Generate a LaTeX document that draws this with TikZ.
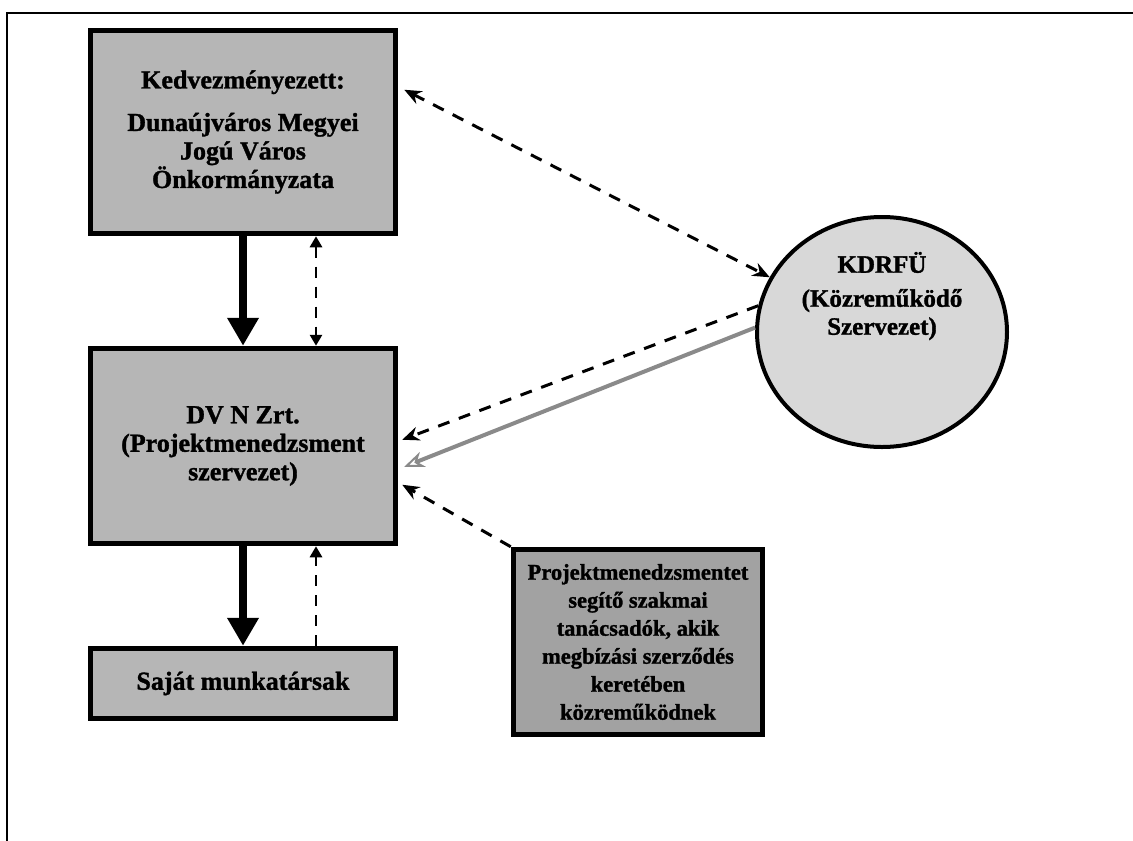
\documentclass[tikz,border=0pt]{standalone}
\usepackage{fontspec}
\setmainfont{Liberation Serif}[BoldFeatures={FakeBold=1.3}]
\usetikzlibrary{arrows.meta,shapes.geometric,calc}
\definecolor{boxgray}{HTML}{B6B6B6}
\definecolor{boxdark}{HTML}{A2A2A2}
\definecolor{ellgray}{HTML}{D8D8D8}
\definecolor{arrowgray}{HTML}{8A8A8A}
\tikzset{
  vhead/.tip={Triangle[width=12pt,length=11pt]},
  dhead/.tip={Stealth[width=14pt,length=17pt]},
  box/.style={draw=black, line width=5.5pt, fill=boxgray, align=center,
    inner sep=0pt, font=\fontsize{26}{28.5}\selectfont\bfseries},
  darkbox/.style={box, fill=boxdark, font=\fontsize{22.5}{28}\selectfont\bfseries},
  ell/.style={draw=black, line width=4pt, fill=ellgray, ellipse, inner sep=0pt},
  lbl/.style={align=center, inner sep=0pt, font=\fontsize{25}{28}\selectfont\bfseries},
  thickarrow/.style={line width=7.5pt, -{Triangle[width=30pt,length=28pt]}},
  vdash/.style={line width=2.8pt, dash pattern=on 11pt off 9pt},
  ddash/.style={line width=3pt, dash pattern=on 12pt off 10pt},
  grayarrow/.style={line width=4pt, draw=arrowgray, -{Stealth[width=16pt,length=20pt,open,line width=2pt]}}
}
\begin{document}
\begin{tikzpicture}[x=1pt,y=-1pt]
\useasboundingbox (0,0) rectangle (1133,841);
% frame
\draw[line width=1.5pt] (7,841) -- (7,13) -- (1133,13);

\node[box, minimum width=305pt, minimum height=203pt] (b1) at (243,132)
  {Kedvezményezett:\\[14pt] Dunaújváros Megyei\\ Jogú Város\\ Önkormányzata};
\node[box, minimum width=305pt, minimum height=195pt] (b2) at (243,446)
  {DV N Zrt.\\ (Projektmenedzsment\\ szervezet)};
\node[box, minimum width=305pt, minimum height=70pt] (b3) at (243,683.5)
  {Saját munkatársak};
\node[darkbox, minimum width=249pt, minimum height=185pt] (b4) at (638,642)
  {Projektmenedzsmentet\\ segítő szakmai\\ tanácsadók, akik\\ megbízási szerződés\\ keretében\\ közreműködnek};
\node[ell, minimum width=250pt, minimum height=230pt] (kd) at (882,332) {};
\node[lbl] (kdt) at (882,296) {KDRFÜ\\[6pt] (Közreműködő\\ Szervezet)};

\coordinate (c1) at (243,0);
\coordinate (c2) at (316,0);

% vertical connectors
\draw[thickarrow] (b1.south -| c1) -- (b2.north -| c1);
\draw[vdash, vhead-vhead] (b1.south -| c2) -- (b2.north -| c2);
\draw[thickarrow] (b2.south -| c1) -- (b3.north -| c1);
\draw[vdash, -vhead] (b3.north -| c2) -- (b2.south -| c2);

% diagonal connectors
\draw[ddash, dhead-dhead] ($(b1.north east)+(6,62)$) -- (kd.154);
\draw[ddash, -dhead] (kd.168) -- ($(b2.north east)+(4,94)$);
\draw[grayarrow] (kd.178) -- ($(b2.north east)+(6,121)$);
\draw[ddash, -dhead] (b4.north west) -- ($(b2.north east)+(4,139)$);
\end{tikzpicture}
\end{document}
